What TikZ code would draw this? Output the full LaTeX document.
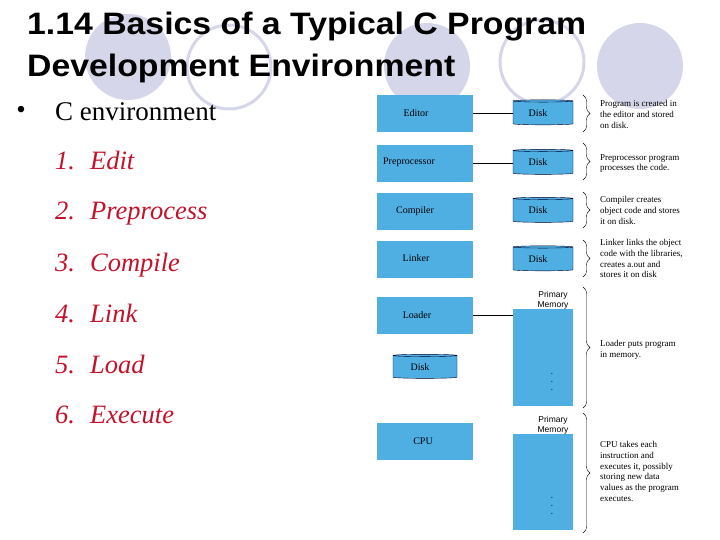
\documentclass[tikz,border=0pt]{standalone}
\usepackage{fontspec}
\setmainfont{Liberation Serif}
\setsansfont{Liberation Sans}
\newfontfamily\titlefont[FakeStretch=1.09]{Liberation Sans}
\usepackage{xcolor}
\usepackage{tikz}
\usetikzlibrary{shapes.geometric,decorations.pathreplacing}
\definecolor{boxblue}{RGB}{79,174,226}
\definecolor{lavender}{RGB}{214,214,235}
\definecolor{listred}{RGB}{196,18,42}

\begin{document}
\begin{tikzpicture}[x=1bp,y=-1bp,
box/.style={fill=boxblue,minimum width=96bp,minimum height=37bp,inner sep=0pt},
boxlabel/.style={inner sep=0pt,font=\fontsize{10bp}{12bp}\selectfont},
disk/.style={cylinder,shape border rotate=90,draw=black!85!blue,fill=boxblue,aspect=0.25,minimum width=60bp,minimum height=25bp,inner sep=0pt,font=\fontsize{10bp}{12bp}\selectfont},
mem/.style={fill=boxblue,minimum width=60bp,minimum height=97bp,inner sep=0pt},
memlabel/.style={align=center,inner sep=0pt,font=\sffamily\fontsize{8.5bp}{10bp}\selectfont},
dots/.style={align=center,inner sep=0pt,font=\fontsize{9bp}{8bp}\selectfont},
note/.style={anchor=north west,align=left,inner sep=0pt,font=\fontsize{9bp}{10.8bp}\selectfont},
brace/.style={decorate,decoration={brace,amplitude=7bp}},
item/.style={anchor=base west,inner sep=0pt,text=listred,font=\fontsize{26.5bp}{30bp}\selectfont\itshape}]
\useasboundingbox(0,0)rectangle(720,540);
%% background circles
\fill[lavender](128,57)circle(43bp);
\draw[lavender,line width=3bp](229,67)circle(42bp);
\fill[lavender](427,66)circle(43bp);
\draw[lavender,line width=3bp](542,62)circle(42bp);
\fill[lavender](640,66)circle(43bp);
%% title and list
\node[anchor=base west,inner sep=0pt,font=\titlefont\bfseries\fontsize{31bp}{40bp}\selectfont](title1)at(27,35){1.14 Basics of a Typical C Program};
\node[anchor=base west,inner sep=0pt,font=\titlefont\bfseries\fontsize{31bp}{40bp}\selectfont](title2)at(27,77){Development Environment};
\node[inner sep=0pt,font=\fontsize{27bp}{30bp}\selectfont](bullet)at(21,112){•};
\node[anchor=base west,inner sep=0pt,font=\fontsize{27bp}{30bp}\selectfont](cenv)at(55,121){C environment};
\node[item](edit)at(55,170){\makebox[35bp][l]{1.}Edit};
\node[item](preprocess)at(55,220){\makebox[35bp][l]{2.}Preprocess};
\node[item](compile)at(55,272){\makebox[35bp][l]{3.}Compile};
\node[item](link)at(55,322){\makebox[35bp][l]{4.}Link};
\node[item](load)at(55,373){\makebox[35bp][l]{5.}Load};
\node[item](execute)at(55,423){\makebox[35bp][l]{6.}Execute};
%% phases
\node[box](editor)at(425,113.5){};
\node[boxlabel]at(416,113){Editor};
\node[box](preprocessor)at(425,163.5){};
\node[boxlabel]at(409,162){Preprocessor};
\node[box](compiler)at(425,211.5){};
\node[boxlabel]at(415,211){Compiler};
\node[box](linker)at(425,259.5){};
\node[boxlabel]at(416,258){Linker};
\node[box](loader)at(425,315){};
\node[boxlabel]at(417,315){Loader};
\node[box](cpu)at(425,441.5){};
\node[boxlabel]at(423,441){CPU};
\node[disk](disk1)at(543,113){\hspace*{-10bp}Disk};
\node[disk](disk2)at(543,162.5){\hspace*{-10bp}Disk};
\node[disk](disk3)at(543,210.5){\hspace*{-10bp}Disk};
\node[disk](disk4)at(543,259){\hspace*{-10bp}Disk};
\node[disk,minimum width=64bp,minimum height=24bp](disk5)at(425,367){\hspace*{-10bp}Disk};
\node[mem](mem1)at(543,357.5){};
\node[memlabel](mem1label)at(553,300){Primary\\Memory};
\node[dots](mem1dots)at(552,382){.\\.\\.};
\node[mem,minimum height=96bp](mem2)at(543,482){};
\node[memlabel](mem2label)at(553,425){Primary\\Memory};
\node[dots](mem2dots)at(552,506){.\\.\\.};
\draw(editor.east)--(editor.east-|disk1.west);
\draw(preprocessor.east)--(preprocessor.east-|disk2.west);
\draw(loader.east)--(loader.east-|mem1.west);
%% braces and notes
\draw[brace](583,95)--(583,132);
\draw[brace](583,143)--(583,180);
\draw[brace](583,192)--(583,228);
\draw[brace](583,240)--(583,277);
\draw[brace](583,287)--(583,408);
\draw[brace](583,413)--(583,533);
\node[note](note1)at(600,100){Program is created in\\the editor and stored\\on disk.};
\node[note](note2)at(600,154){Preprocessor program\\processes the code.};
\node[note](note3)at(600,196){Compiler creates\\object code and stores\\it on disk.};
\node[note](note4)at(600,239){Linker links the object\\code with the libraries,\\creates a.out and\\stores it on disk};
\node[note](note5)at(600,340){Loader puts program\\in memory.};
\node[note](note6)at(600,441){CPU takes each\\instruction and\\executes it, possibly\\storing new data\\values as the program\\executes.};
\end{tikzpicture}
\end{document}
